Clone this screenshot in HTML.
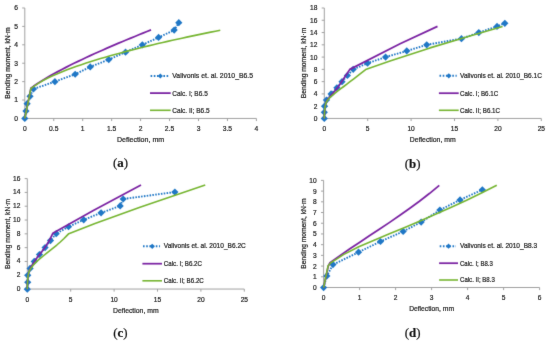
<!DOCTYPE html>
<html><head><meta charset="utf-8"><style>
html,body{margin:0;padding:0;background:#fff;width:550px;height:345px;overflow:hidden}
svg{display:block}
text{filter:grayscale(1);stroke:#262626;stroke-width:0.22px}
</style></head><body>
<svg width="550" height="345" viewBox="0 0 550 345">
<defs><filter id="soft" x="0" y="0" width="550" height="345" filterUnits="userSpaceOnUse" color-interpolation-filters="sRGB"><feConvolveMatrix order="3" kernelMatrix="0.01 0.08 0.01 0.08 0.64 0.08 0.01 0.08 0.01" edgeMode="duplicate"/></filter><filter id="softT" x="0" y="0" width="550" height="345" filterUnits="userSpaceOnUse" color-interpolation-filters="sRGB"><feConvolveMatrix order="3" kernelMatrix="0.005 0.05 0.005 0.05 0.78 0.05 0.005 0.05 0.005" edgeMode="duplicate"/></filter></defs>
<g filter="url(#soft)">
<rect width="550" height="345" fill="#fff"/>
<g stroke="#A0A0A0" stroke-width="1" fill="none" shape-rendering="auto">
<path d="M24.80 7.99V118.45"/>
<path d="M24.80 118.45H256.40"/>
<path d="M22.20 118.45H24.80"/>
<path d="M22.20 100.04H24.80"/>
<path d="M22.20 81.63H24.80"/>
<path d="M22.20 63.22H24.80"/>
<path d="M22.20 44.81H24.80"/>
<path d="M22.20 26.40H24.80"/>
<path d="M22.20 7.99H24.80"/>
<path d="M24.80 118.45V121.05"/>
<path d="M53.75 118.45V121.05"/>
<path d="M82.70 118.45V121.05"/>
<path d="M111.65 118.45V121.05"/>
<path d="M140.60 118.45V121.05"/>
<path d="M169.55 118.45V121.05"/>
<path d="M198.50 118.45V121.05"/>
<path d="M227.45 118.45V121.05"/>
<path d="M256.40 118.45V121.05"/>
</g>
<polyline points="24.80,118.45 25.96,111.09 27.12,103.72 30.01,96.36 33.48,88.99 54.91,81.63 75.17,74.27 90.23,66.90 108.75,59.54 125.55,52.17 142.34,44.81 158.55,37.45 174.18,30.08 178.81,22.72" fill="none" stroke="#1F77C6" stroke-width="1.9" stroke-dasharray="1.55 1.31"/>
<g fill="#1F77C6"><path d="M24.80 114.85L28.40 118.45L24.80 122.05L21.20 118.45Z"/><path d="M25.96 107.49L29.56 111.09L25.96 114.69L22.36 111.09Z"/><path d="M27.12 100.12L30.72 103.72L27.12 107.32L23.52 103.72Z"/><path d="M30.01 92.76L33.61 96.36L30.01 99.96L26.41 96.36Z"/><path d="M33.48 85.39L37.09 88.99L33.48 92.59L29.88 88.99Z"/><path d="M54.91 78.03L58.51 81.63L54.91 85.23L51.31 81.63Z"/><path d="M75.17 70.67L78.77 74.27L75.17 77.87L71.57 74.27Z"/><path d="M90.23 63.30L93.83 66.90L90.23 70.50L86.63 66.90Z"/><path d="M108.75 55.94L112.35 59.54L108.75 63.14L105.16 59.54Z"/><path d="M125.55 48.57L129.15 52.17L125.55 55.77L121.95 52.17Z"/><path d="M142.34 41.21L145.94 44.81L142.34 48.41L138.74 44.81Z"/><path d="M158.55 33.85L162.15 37.45L158.55 41.05L154.95 37.45Z"/><path d="M174.18 26.48L177.78 30.08L174.18 33.68L170.58 30.08Z"/><path d="M178.81 19.12L182.41 22.72L178.81 26.32L175.21 22.72Z"/></g>
<polyline points="24.80,118.45 30.88,88.30 33.48,86.34 37.54,83.53 41.59,80.92 45.64,78.46 49.70,76.09 53.75,73.82 57.80,71.62 61.86,69.47 65.91,67.38 69.96,65.34 74.02,63.33 78.07,61.37 82.12,59.43 86.17,57.53 90.23,55.66 94.28,53.81 98.33,51.98 102.39,50.18 106.44,48.40 110.49,46.64 114.55,44.90 118.60,43.18 122.65,41.47 126.70,39.78 130.76,38.10 134.81,36.44 138.86,34.80 142.92,33.16 146.97,31.54 151.02,29.93" fill="none" stroke="#7A22A2" stroke-width="1.75" stroke-linejoin="round"/>
<polyline points="24.80,118.45 30.88,88.72 33.48,86.61 38.27,83.35 43.06,80.56 47.85,78.07 52.64,75.79 57.43,73.67 62.22,71.69 67.01,69.81 71.80,68.02 76.59,66.31 81.38,64.66 86.17,63.07 90.96,61.54 95.75,60.05 100.54,58.60 105.33,57.20 110.11,55.82 114.90,54.49 119.69,53.18 124.48,51.89 129.27,50.64 134.06,49.41 138.85,48.20 143.64,47.01 148.43,45.85 153.22,44.70 158.01,43.57 162.80,42.46 167.59,41.37 172.38,40.29 177.17,39.22 181.96,38.17 186.74,37.14 191.53,36.11 196.32,35.10 201.11,34.10 205.90,33.11 210.69,32.14 215.48,31.17 220.27,30.22" fill="none" stroke="#76B531" stroke-width="1.6" stroke-linejoin="round"/>
<path d="M150.60 76.00H168.70" stroke="#1F77C6" stroke-width="1.9" stroke-dasharray="1.6 1.6"/>
<g fill="#1F77C6"><path d="M160.35 73.40L162.95 76.00L160.35 78.60L157.75 76.00Z"/></g>
<path d="M150.00 93.10H170.70" stroke="#7A22A2" stroke-width="1.75"/>
<path d="M150.00 110.30H170.70" stroke="#76B531" stroke-width="1.6"/>
<g stroke="#A0A0A0" stroke-width="1" fill="none" shape-rendering="auto">
<path d="M324.30 8.00V118.45"/>
<path d="M324.30 118.45H541.30"/>
<path d="M321.70 118.45H324.30"/>
<path d="M321.70 106.18H324.30"/>
<path d="M321.70 93.91H324.30"/>
<path d="M321.70 81.63H324.30"/>
<path d="M321.70 69.36H324.30"/>
<path d="M321.70 57.09H324.30"/>
<path d="M321.70 44.82H324.30"/>
<path d="M321.70 32.55H324.30"/>
<path d="M321.70 20.27H324.30"/>
<path d="M321.70 8.00H324.30"/>
<path d="M324.30 118.45V121.05"/>
<path d="M367.70 118.45V121.05"/>
<path d="M411.10 118.45V121.05"/>
<path d="M454.50 118.45V121.05"/>
<path d="M497.90 118.45V121.05"/>
<path d="M541.30 118.45V121.05"/>
</g>
<polyline points="324.30,118.45 324.30,112.31 324.56,106.18 326.47,100.04 331.07,93.91 336.89,87.77 342.01,81.63 347.39,75.50 353.20,69.36 367.53,63.23 385.58,57.09 406.76,50.95 426.72,44.82 461.44,38.68 478.80,32.55 497.03,26.41 504.84,23.34" fill="none" stroke="#1F77C6" stroke-width="1.9" stroke-dasharray="1.55 1.31"/>
<g fill="#1F77C6"><path d="M324.30 114.85L327.90 118.45L324.30 122.05L320.70 118.45Z"/><path d="M324.30 108.71L327.90 112.31L324.30 115.91L320.70 112.31Z"/><path d="M324.56 102.58L328.16 106.18L324.56 109.78L320.96 106.18Z"/><path d="M326.47 96.44L330.07 100.04L326.47 103.64L322.87 100.04Z"/><path d="M331.07 90.31L334.67 93.91L331.07 97.51L327.47 93.91Z"/><path d="M336.89 84.17L340.49 87.77L336.89 91.37L333.29 87.77Z"/><path d="M342.01 78.03L345.61 81.63L342.01 85.23L338.41 81.63Z"/><path d="M347.39 71.90L350.99 75.50L347.39 79.10L343.79 75.50Z"/><path d="M353.20 65.76L356.80 69.36L353.20 72.96L349.60 69.36Z"/><path d="M367.53 59.63L371.13 63.23L367.53 66.83L363.93 63.23Z"/><path d="M385.58 53.49L389.18 57.09L385.58 60.69L381.98 57.09Z"/><path d="M406.76 47.35L410.36 50.95L406.76 54.55L403.16 50.95Z"/><path d="M426.72 41.22L430.32 44.82L426.72 48.42L423.12 44.82Z"/><path d="M461.44 35.08L465.04 38.68L461.44 42.28L457.84 38.68Z"/><path d="M478.80 28.95L482.40 32.55L478.80 36.15L475.20 32.55Z"/><path d="M497.03 22.81L500.63 26.41L497.03 30.01L493.43 26.41Z"/><path d="M504.84 19.74L508.44 23.34L504.84 26.94L501.24 23.34Z"/></g>
<polyline points="324.30,118.45 324.39,115.38 324.56,112.31 324.82,108.63 325.17,106.18 325.60,104.34 326.21,102.62 326.90,100.78 327.77,99.55 330.90,95.62 334.72,91.14 337.93,87.16 341.66,81.76 345.57,75.80 349.82,69.36 400.08,43.77 437.49,26.41" fill="none" stroke="#7A22A2" stroke-width="1.75" stroke-linejoin="round"/>
<polyline points="324.30,118.45 324.39,115.38 324.56,112.31 324.82,108.63 325.17,106.18 325.60,104.34 326.21,102.62 326.90,101.27 327.77,100.06 329.07,98.47 330.38,97.10 332.11,95.51 333.85,94.10 336.02,92.40 338.19,90.72 340.79,88.72 343.40,86.74 346.87,84.11 350.34,81.48 353.81,78.84 357.28,76.16 360.76,73.44 363.36,71.35 365.62,69.55 390.01,61.08 430.02,47.89 469.95,36.04 502.59,26.53" fill="none" stroke="#76B531" stroke-width="1.6" stroke-linejoin="round"/>
<path d="M439.50 75.80H456.70" stroke="#1F77C6" stroke-width="1.9" stroke-dasharray="1.6 1.6"/>
<g fill="#1F77C6"><path d="M448.80 73.20L451.40 75.80L448.80 78.40L446.20 75.80Z"/></g>
<path d="M438.90 93.20H458.70" stroke="#7A22A2" stroke-width="1.75"/>
<path d="M438.90 110.30H458.70" stroke="#76B531" stroke-width="1.6"/>
<g stroke="#A0A0A0" stroke-width="1" fill="none" shape-rendering="auto">
<path d="M27.30 178.60V289.05"/>
<path d="M27.30 289.05H244.30"/>
<path d="M24.70 289.05H27.30"/>
<path d="M24.70 275.24H27.30"/>
<path d="M24.70 261.44H27.30"/>
<path d="M24.70 247.63H27.30"/>
<path d="M24.70 233.83H27.30"/>
<path d="M24.70 220.02H27.30"/>
<path d="M24.70 206.21H27.30"/>
<path d="M24.70 192.41H27.30"/>
<path d="M24.70 178.60H27.30"/>
<path d="M27.30 289.05V291.65"/>
<path d="M70.70 289.05V291.65"/>
<path d="M114.10 289.05V291.65"/>
<path d="M157.50 289.05V291.65"/>
<path d="M200.90 289.05V291.65"/>
<path d="M244.30 289.05V291.65"/>
</g>
<polyline points="27.30,289.20 27.73,282.26 27.73,275.32 30.08,268.38 34.24,261.44 39.45,254.50 45.09,247.56 50.48,240.62 56.20,233.68 68.53,226.74 83.72,219.80 101.08,212.86 120.18,205.92 123.21,198.98 174.86,192.04" fill="none" stroke="#1F77C6" stroke-width="1.9" stroke-dasharray="1.55 1.31"/>
<g fill="#1F77C6"><path d="M27.30 285.60L30.90 289.20L27.30 292.80L23.70 289.20Z"/><path d="M27.73 278.66L31.33 282.26L27.73 285.86L24.13 282.26Z"/><path d="M27.73 271.72L31.33 275.32L27.73 278.92L24.13 275.32Z"/><path d="M30.08 264.78L33.68 268.38L30.08 271.98L26.48 268.38Z"/><path d="M34.24 257.84L37.84 261.44L34.24 265.04L30.64 261.44Z"/><path d="M39.45 250.90L43.05 254.50L39.45 258.10L35.85 254.50Z"/><path d="M45.09 243.96L48.69 247.56L45.09 251.16L41.49 247.56Z"/><path d="M50.48 237.02L54.08 240.62L50.48 244.22L46.88 240.62Z"/><path d="M56.20 230.08L59.80 233.68L56.20 237.28L52.60 233.68Z"/><path d="M68.53 223.14L72.13 226.74L68.53 230.34L64.93 226.74Z"/><path d="M83.72 216.20L87.32 219.80L83.72 223.40L80.12 219.80Z"/><path d="M101.08 209.26L104.68 212.86L101.08 216.46L97.48 212.86Z"/><path d="M120.18 202.32L123.78 205.92L120.18 209.52L116.58 205.92Z"/><path d="M123.21 195.38L126.81 198.98L123.21 202.58L119.61 198.98Z"/><path d="M174.86 188.44L178.46 192.04L174.86 195.64L171.26 192.04Z"/></g>
<polyline points="27.30,289.20 27.39,285.73 27.56,282.26 27.82,278.10 28.17,275.32 28.60,273.24 29.21,271.29 29.90,269.21 30.77,267.55 32.07,265.25 33.38,263.13 35.11,260.52 36.85,258.09 39.02,255.24 41.19,252.44 43.79,249.00 46.40,245.24 48.57,241.72 50.74,237.71 52.82,233.33 93.35,210.43 141.01,185.10" fill="none" stroke="#7A22A2" stroke-width="1.75" stroke-linejoin="round"/>
<polyline points="27.30,289.20 27.39,285.73 27.56,282.26 27.82,278.10 28.17,275.32 28.60,273.24 29.21,271.29 29.90,269.91 30.77,268.55 32.07,266.69 33.38,265.03 35.11,263.08 36.85,261.36 39.02,259.43 41.19,257.62 43.79,255.50 46.40,253.42 49.87,250.67 53.34,247.89 56.81,245.01 60.28,241.99 63.76,238.75 66.36,236.16 68.79,233.68 95.00,223.48 139.97,207.31 205.24,185.10" fill="none" stroke="#76B531" stroke-width="1.6" stroke-linejoin="round"/>
<path d="M143.00 246.30H160.00" stroke="#1F77C6" stroke-width="1.9" stroke-dasharray="1.6 1.6"/>
<g fill="#1F77C6"><path d="M152.20 243.70L154.80 246.30L152.20 248.90L149.60 246.30Z"/></g>
<path d="M142.40 263.70H162.00" stroke="#7A22A2" stroke-width="1.75"/>
<path d="M142.40 280.80H162.00" stroke="#76B531" stroke-width="1.6"/>
<g stroke="#A0A0A0" stroke-width="1" fill="none" shape-rendering="auto">
<path d="M323.60 180.40V287.50"/>
<path d="M323.60 287.50H539.60"/>
<path d="M321.00 287.50H323.60"/>
<path d="M321.00 276.79H323.60"/>
<path d="M321.00 266.08H323.60"/>
<path d="M321.00 255.37H323.60"/>
<path d="M321.00 244.66H323.60"/>
<path d="M321.00 233.95H323.60"/>
<path d="M321.00 223.24H323.60"/>
<path d="M321.00 212.53H323.60"/>
<path d="M321.00 201.82H323.60"/>
<path d="M321.00 191.11H323.60"/>
<path d="M321.00 180.40H323.60"/>
<path d="M323.60 287.50V290.10"/>
<path d="M359.60 287.50V290.10"/>
<path d="M395.60 287.50V290.10"/>
<path d="M431.60 287.50V290.10"/>
<path d="M467.60 287.50V290.10"/>
<path d="M503.60 287.50V290.10"/>
<path d="M539.60 287.50V290.10"/>
</g>
<polyline points="323.60,287.60 326.84,275.94 332.96,264.60 358.52,252.18 380.48,241.48 403.16,231.44 421.16,222.04 439.88,210.06 460.04,199.90 482.36,189.75" fill="none" stroke="#1F77C6" stroke-width="1.9" stroke-dasharray="1.55 1.31"/>
<g fill="#1F77C6"><path d="M323.60 284.00L327.20 287.60L323.60 291.20L320.00 287.60Z"/><path d="M326.84 272.34L330.44 275.94L326.84 279.54L323.24 275.94Z"/><path d="M332.96 261.00L336.56 264.60L332.96 268.20L329.36 264.60Z"/><path d="M358.52 248.58L362.12 252.18L358.52 255.78L354.92 252.18Z"/><path d="M380.48 237.88L384.08 241.48L380.48 245.08L376.88 241.48Z"/><path d="M403.16 227.84L406.76 231.44L403.16 235.04L399.56 231.44Z"/><path d="M421.16 218.44L424.76 222.04L421.16 225.64L417.56 222.04Z"/><path d="M439.88 206.46L443.48 210.06L439.88 213.66L436.28 210.06Z"/><path d="M460.04 196.30L463.64 199.90L460.04 203.50L456.44 199.90Z"/><path d="M482.36 186.15L485.96 189.75L482.36 193.35L478.76 189.75Z"/></g>
<polyline points="323.60,287.60 328.28,266.00 330.01,262.72 339.94,255.66 349.88,248.84 359.82,242.18 369.75,235.59 379.69,229.00 389.62,222.36 399.56,215.55 409.50,208.54 419.43,201.24 429.37,193.56 439.30,185.44" fill="none" stroke="#7A22A2" stroke-width="1.75" stroke-linejoin="round"/>
<polyline points="323.60,287.60 328.10,265.72 330.80,262.76 336.20,259.30 343.44,254.61 358.77,246.79 374.11,240.25 389.44,233.85 404.78,227.43 420.08,220.96 435.42,214.35 450.75,207.54 466.09,200.48 481.42,193.09 496.76,185.31" fill="none" stroke="#76B531" stroke-width="1.6" stroke-linejoin="round"/>
<path d="M439.70 246.20H456.00" stroke="#1F77C6" stroke-width="1.9" stroke-dasharray="1.6 1.6"/>
<g fill="#1F77C6"><path d="M448.55 243.60L451.15 246.20L448.55 248.80L445.95 246.20Z"/></g>
<path d="M439.10 263.20H458.00" stroke="#7A22A2" stroke-width="1.75"/>
<path d="M439.10 280.00H458.00" stroke="#76B531" stroke-width="1.6"/>
</g>
<g filter="url(#softT)">
<g font-family="'Liberation Sans', sans-serif" fill="#262626">
<text x="17.90" y="120.90" text-anchor="end" font-size="7.10" textLength="3.75" lengthAdjust="spacingAndGlyphs">0</text>
<text x="17.90" y="102.49" text-anchor="end" font-size="7.10" textLength="3.75" lengthAdjust="spacingAndGlyphs">1</text>
<text x="17.90" y="84.08" text-anchor="end" font-size="7.10" textLength="3.75" lengthAdjust="spacingAndGlyphs">2</text>
<text x="17.90" y="65.67" text-anchor="end" font-size="7.10" textLength="3.75" lengthAdjust="spacingAndGlyphs">3</text>
<text x="17.90" y="47.26" text-anchor="end" font-size="7.10" textLength="3.75" lengthAdjust="spacingAndGlyphs">4</text>
<text x="17.90" y="28.85" text-anchor="end" font-size="7.10" textLength="3.75" lengthAdjust="spacingAndGlyphs">5</text>
<text x="17.90" y="10.44" text-anchor="end" font-size="7.10" textLength="3.75" lengthAdjust="spacingAndGlyphs">6</text>
<text x="24.80" y="130.95" text-anchor="middle" font-size="7.10" textLength="3.75" lengthAdjust="spacingAndGlyphs">0</text>
<text x="53.75" y="130.95" text-anchor="middle" font-size="7.10" textLength="9.37" lengthAdjust="spacingAndGlyphs">0.5</text>
<text x="82.70" y="130.95" text-anchor="middle" font-size="7.10" textLength="3.75" lengthAdjust="spacingAndGlyphs">1</text>
<text x="111.65" y="130.95" text-anchor="middle" font-size="7.10" textLength="9.37" lengthAdjust="spacingAndGlyphs">1.5</text>
<text x="140.60" y="130.95" text-anchor="middle" font-size="7.10" textLength="3.75" lengthAdjust="spacingAndGlyphs">2</text>
<text x="169.55" y="130.95" text-anchor="middle" font-size="7.10" textLength="9.37" lengthAdjust="spacingAndGlyphs">2.5</text>
<text x="198.50" y="130.95" text-anchor="middle" font-size="7.10" textLength="3.75" lengthAdjust="spacingAndGlyphs">3</text>
<text x="227.45" y="130.95" text-anchor="middle" font-size="7.10" textLength="9.37" lengthAdjust="spacingAndGlyphs">3.5</text>
<text x="256.40" y="130.95" text-anchor="middle" font-size="7.10" textLength="3.75" lengthAdjust="spacingAndGlyphs">4</text>
<text x="140.60" y="141.85" text-anchor="middle" font-size="7.25" textLength="47.25" lengthAdjust="spacingAndGlyphs">Deflection, mm</text>
<text x="0.00" y="2.40" text-anchor="middle" font-size="7.09" textLength="71.34" lengthAdjust="spacingAndGlyphs" transform="translate(7.80 63.00) rotate(-90)">Bending moment, kN&#183;m</text>
</g>
<g font-family="'Liberation Sans', sans-serif" fill="#262626">
<text x="172.30" y="77.70" font-size="7.25" textLength="80.78" lengthAdjust="spacingAndGlyphs">Valivonis et. al. 2010_B6.5</text>
<text x="172.30" y="95.50" font-size="7.25" textLength="35.47" lengthAdjust="spacingAndGlyphs">Calc. I; B6.5</text>
<text x="172.30" y="112.70" font-size="7.25" textLength="37.37" lengthAdjust="spacingAndGlyphs">Calc. II; B6.5</text>
</g>
<text x="120.60" y="166.60" text-anchor="middle" font-family="'Liberation Serif', serif" font-size="12.9" fill="#111">(<tspan font-weight="bold">a</tspan>)</text>
<g font-family="'Liberation Sans', sans-serif" fill="#262626">
<text x="317.40" y="120.90" text-anchor="end" font-size="6.96" textLength="3.68" lengthAdjust="spacingAndGlyphs">0</text>
<text x="317.40" y="108.63" text-anchor="end" font-size="6.96" textLength="3.68" lengthAdjust="spacingAndGlyphs">2</text>
<text x="317.40" y="96.36" text-anchor="end" font-size="6.96" textLength="3.68" lengthAdjust="spacingAndGlyphs">4</text>
<text x="317.40" y="84.08" text-anchor="end" font-size="6.96" textLength="3.68" lengthAdjust="spacingAndGlyphs">6</text>
<text x="317.40" y="71.81" text-anchor="end" font-size="6.96" textLength="3.68" lengthAdjust="spacingAndGlyphs">8</text>
<text x="317.40" y="59.54" text-anchor="end" font-size="6.96" textLength="7.35" lengthAdjust="spacingAndGlyphs">10</text>
<text x="317.40" y="47.27" text-anchor="end" font-size="6.96" textLength="7.35" lengthAdjust="spacingAndGlyphs">12</text>
<text x="317.40" y="35.00" text-anchor="end" font-size="6.96" textLength="7.35" lengthAdjust="spacingAndGlyphs">14</text>
<text x="317.40" y="22.72" text-anchor="end" font-size="6.96" textLength="7.35" lengthAdjust="spacingAndGlyphs">16</text>
<text x="317.40" y="10.45" text-anchor="end" font-size="6.96" textLength="7.35" lengthAdjust="spacingAndGlyphs">18</text>
<text x="324.30" y="130.95" text-anchor="middle" font-size="6.96" textLength="3.68" lengthAdjust="spacingAndGlyphs">0</text>
<text x="367.70" y="130.95" text-anchor="middle" font-size="6.96" textLength="3.68" lengthAdjust="spacingAndGlyphs">5</text>
<text x="411.10" y="130.95" text-anchor="middle" font-size="6.96" textLength="7.35" lengthAdjust="spacingAndGlyphs">10</text>
<text x="454.50" y="130.95" text-anchor="middle" font-size="6.96" textLength="7.35" lengthAdjust="spacingAndGlyphs">15</text>
<text x="497.90" y="130.95" text-anchor="middle" font-size="6.96" textLength="7.35" lengthAdjust="spacingAndGlyphs">20</text>
<text x="541.30" y="130.95" text-anchor="middle" font-size="6.96" textLength="7.35" lengthAdjust="spacingAndGlyphs">25</text>
<text x="432.80" y="141.85" text-anchor="middle" font-size="7.04" textLength="45.87" lengthAdjust="spacingAndGlyphs">Deflection, mm</text>
<text x="0.00" y="2.40" text-anchor="middle" font-size="7.01" textLength="70.47" lengthAdjust="spacingAndGlyphs" transform="translate(303.70 63.00) rotate(-90)">Bending moment, kN&#183;m</text>
</g>
<g font-family="'Liberation Sans', sans-serif" fill="#262626">
<text x="460.00" y="77.50" font-size="7.01" textLength="81.99" lengthAdjust="spacingAndGlyphs">Valivonis et. al. 2010_B6.1C</text>
<text x="460.00" y="95.60" font-size="7.01" textLength="38.19" lengthAdjust="spacingAndGlyphs">Calc. I; B6.1C</text>
<text x="460.00" y="112.70" font-size="7.01" textLength="40.03" lengthAdjust="spacingAndGlyphs">Calc. II; B6.1C</text>
</g>
<text x="412.60" y="167.60" text-anchor="middle" font-family="'Liberation Serif', serif" font-size="12.9" fill="#111">(<tspan font-weight="bold">b</tspan>)</text>
<g font-family="'Liberation Sans', sans-serif" fill="#262626">
<text x="20.40" y="291.10" text-anchor="end" font-size="6.96" textLength="3.68" lengthAdjust="spacingAndGlyphs">0</text>
<text x="20.40" y="277.29" text-anchor="end" font-size="6.96" textLength="3.68" lengthAdjust="spacingAndGlyphs">2</text>
<text x="20.40" y="263.49" text-anchor="end" font-size="6.96" textLength="3.68" lengthAdjust="spacingAndGlyphs">4</text>
<text x="20.40" y="249.68" text-anchor="end" font-size="6.96" textLength="3.68" lengthAdjust="spacingAndGlyphs">6</text>
<text x="20.40" y="235.88" text-anchor="end" font-size="6.96" textLength="3.68" lengthAdjust="spacingAndGlyphs">8</text>
<text x="20.40" y="222.07" text-anchor="end" font-size="6.96" textLength="7.35" lengthAdjust="spacingAndGlyphs">10</text>
<text x="20.40" y="208.26" text-anchor="end" font-size="6.96" textLength="7.35" lengthAdjust="spacingAndGlyphs">12</text>
<text x="20.40" y="194.46" text-anchor="end" font-size="6.96" textLength="7.35" lengthAdjust="spacingAndGlyphs">14</text>
<text x="20.40" y="180.65" text-anchor="end" font-size="6.96" textLength="7.35" lengthAdjust="spacingAndGlyphs">16</text>
<text x="27.30" y="301.70" text-anchor="middle" font-size="6.96" textLength="3.68" lengthAdjust="spacingAndGlyphs">0</text>
<text x="70.70" y="301.70" text-anchor="middle" font-size="6.96" textLength="3.68" lengthAdjust="spacingAndGlyphs">5</text>
<text x="114.10" y="301.70" text-anchor="middle" font-size="6.96" textLength="7.35" lengthAdjust="spacingAndGlyphs">10</text>
<text x="157.50" y="301.70" text-anchor="middle" font-size="6.96" textLength="7.35" lengthAdjust="spacingAndGlyphs">15</text>
<text x="200.90" y="301.70" text-anchor="middle" font-size="6.96" textLength="7.35" lengthAdjust="spacingAndGlyphs">20</text>
<text x="244.30" y="301.70" text-anchor="middle" font-size="6.96" textLength="7.35" lengthAdjust="spacingAndGlyphs">25</text>
<text x="135.80" y="312.60" text-anchor="middle" font-size="7.00" textLength="45.62" lengthAdjust="spacingAndGlyphs">Deflection, mm</text>
<text x="0.00" y="2.40" text-anchor="middle" font-size="6.96" textLength="69.99" lengthAdjust="spacingAndGlyphs" transform="translate(7.30 234.00) rotate(-90)">Bending moment, kN&#183;m</text>
</g>
<g font-family="'Liberation Sans', sans-serif" fill="#262626">
<text x="163.80" y="248.00" font-size="7.01" textLength="81.99" lengthAdjust="spacingAndGlyphs">Valivonis et. al. 2010_B6.2C</text>
<text x="163.80" y="266.10" font-size="7.01" textLength="38.19" lengthAdjust="spacingAndGlyphs">Calc. I; B6.2C</text>
<text x="163.80" y="283.20" font-size="7.01" textLength="40.03" lengthAdjust="spacingAndGlyphs">Calc. II; B6.2C</text>
</g>
<text x="120.40" y="337.40" text-anchor="middle" font-family="'Liberation Serif', serif" font-size="12.9" fill="#111">(<tspan font-weight="bold">c</tspan>)</text>
<g font-family="'Liberation Sans', sans-serif" fill="#262626">
<text x="316.70" y="289.95" text-anchor="end" font-size="6.96" textLength="3.68" lengthAdjust="spacingAndGlyphs">0</text>
<text x="316.70" y="279.24" text-anchor="end" font-size="6.96" textLength="3.68" lengthAdjust="spacingAndGlyphs">1</text>
<text x="316.70" y="268.53" text-anchor="end" font-size="6.96" textLength="3.68" lengthAdjust="spacingAndGlyphs">2</text>
<text x="316.70" y="257.82" text-anchor="end" font-size="6.96" textLength="3.68" lengthAdjust="spacingAndGlyphs">3</text>
<text x="316.70" y="247.11" text-anchor="end" font-size="6.96" textLength="3.68" lengthAdjust="spacingAndGlyphs">4</text>
<text x="316.70" y="236.40" text-anchor="end" font-size="6.96" textLength="3.68" lengthAdjust="spacingAndGlyphs">5</text>
<text x="316.70" y="225.69" text-anchor="end" font-size="6.96" textLength="3.68" lengthAdjust="spacingAndGlyphs">6</text>
<text x="316.70" y="214.98" text-anchor="end" font-size="6.96" textLength="3.68" lengthAdjust="spacingAndGlyphs">7</text>
<text x="316.70" y="204.27" text-anchor="end" font-size="6.96" textLength="3.68" lengthAdjust="spacingAndGlyphs">8</text>
<text x="316.70" y="193.56" text-anchor="end" font-size="6.96" textLength="3.68" lengthAdjust="spacingAndGlyphs">9</text>
<text x="316.70" y="182.85" text-anchor="end" font-size="6.96" textLength="7.35" lengthAdjust="spacingAndGlyphs">10</text>
<text x="323.60" y="300.10" text-anchor="middle" font-size="6.96" textLength="3.68" lengthAdjust="spacingAndGlyphs">0</text>
<text x="359.60" y="300.10" text-anchor="middle" font-size="6.96" textLength="3.68" lengthAdjust="spacingAndGlyphs">1</text>
<text x="395.60" y="300.10" text-anchor="middle" font-size="6.96" textLength="3.68" lengthAdjust="spacingAndGlyphs">2</text>
<text x="431.60" y="300.10" text-anchor="middle" font-size="6.96" textLength="3.68" lengthAdjust="spacingAndGlyphs">3</text>
<text x="467.60" y="300.10" text-anchor="middle" font-size="6.96" textLength="3.68" lengthAdjust="spacingAndGlyphs">4</text>
<text x="503.60" y="300.10" text-anchor="middle" font-size="6.96" textLength="3.68" lengthAdjust="spacingAndGlyphs">5</text>
<text x="539.60" y="300.10" text-anchor="middle" font-size="6.96" textLength="3.68" lengthAdjust="spacingAndGlyphs">6</text>
<text x="431.60" y="311.00" text-anchor="middle" font-size="6.88" textLength="44.87" lengthAdjust="spacingAndGlyphs">Deflection, mm</text>
<text x="0.00" y="2.40" text-anchor="middle" font-size="6.99" textLength="70.28" lengthAdjust="spacingAndGlyphs" transform="translate(303.50 233.50) rotate(-90)">Bending moment, kN&#183;m</text>
</g>
<g font-family="'Liberation Sans', sans-serif" fill="#262626">
<text x="460.00" y="247.90" font-size="6.92" textLength="77.14" lengthAdjust="spacingAndGlyphs">Valivonis et. al. 2010_B8.3</text>
<text x="460.00" y="265.60" font-size="6.72" textLength="32.89" lengthAdjust="spacingAndGlyphs">Calc. I; B8.3</text>
<text x="460.00" y="282.40" font-size="6.75" textLength="34.80" lengthAdjust="spacingAndGlyphs">Calc. II; B8.3</text>
</g>
<text x="412.60" y="337.00" text-anchor="middle" font-family="'Liberation Serif', serif" font-size="12.9" fill="#111">(<tspan font-weight="bold">d</tspan>)</text>
</g>
</svg>
</body></html>
